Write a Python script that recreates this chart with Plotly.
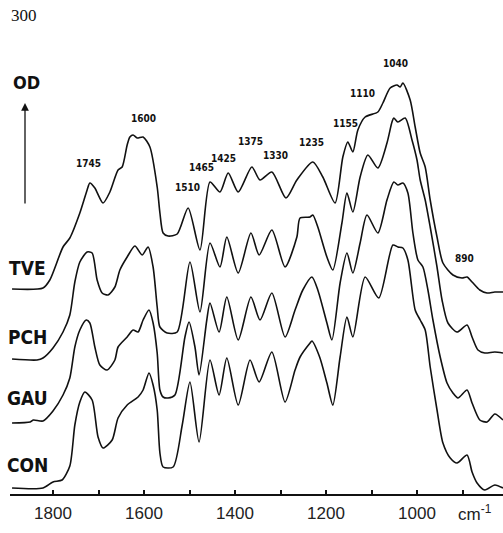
import plotly.graph_objects as go

# ---- data (wavenumber cm-1, OD with vertical offsets as drawn) ----
tve_wn = [1890, 1822, 1807, 1778, 1763, 1741, 1725, 1719, 1708, 1690, 1675, 1657, 1648, 1637, 1631, 1624, 1615, 1602, 1587, 1571, 1565, 1558, 1547, 1527, 1503, 1477, 1455, 1433, 1415, 1393, 1363, 1345, 1319, 1288, 1264, 1229, 1207, 1180, 1163, 1152, 1141, 1130, 1114, 1086, 1075, 1059, 1044, 1037, 1031, 1015, 1004, 993, 982, 971, 956, 943, 921, 901, 890, 879, 862, 846, 829, 811]
tve_od = [2.05, 2.06, 2.14, 2.47, 2.56, 2.81, 3.04, 3.11, 3.06, 2.91, 3.02, 3.24, 3.27, 3.49, 3.57, 3.59, 3.56, 3.57, 3.47, 3.07, 2.81, 2.61, 2.58, 2.60, 2.86, 2.44, 3.12, 3.02, 3.21, 3.02, 3.27, 3.14, 3.22, 2.96, 3.14, 3.32, 3.17, 2.91, 3.37, 3.52, 3.42, 3.64, 3.77, 3.82, 3.91, 4.06, 4.09, 4.07, 4.11, 3.94, 3.67, 3.41, 3.27, 2.94, 2.57, 2.31, 2.19, 2.16, 2.17, 2.12, 2.04, 2.01, 2.02, 2.02]

pch_wn = [1890, 1835, 1822, 1800, 1778, 1763, 1752, 1741, 1725, 1714, 1703, 1692, 1679, 1664, 1653, 1637, 1620, 1604, 1591, 1580, 1571, 1565, 1549, 1527, 1499, 1477, 1455, 1433, 1418, 1393, 1365, 1347, 1319, 1290, 1264, 1257, 1235, 1229, 1218, 1198, 1185, 1165, 1154, 1141, 1125, 1108, 1086, 1066, 1055, 1051, 1042, 1026, 1011, 1000, 993, 982, 971, 956, 945, 932, 912, 890, 879, 866, 851, 829, 811]
pch_od = [1.35, 1.34, 1.36, 1.46, 1.62, 1.79, 2.12, 2.32, 2.42, 2.41, 2.14, 2.01, 1.99, 2.07, 2.24, 2.37, 2.48, 2.39, 2.47, 2.27, 1.87, 1.67, 1.61, 1.62, 2.32, 1.82, 2.51, 2.27, 2.57, 2.21, 2.61, 2.39, 2.64, 2.27, 2.57, 2.76, 2.77, 2.79, 2.67, 2.37, 2.24, 2.71, 3.01, 2.82, 3.17, 3.39, 3.26, 3.51, 3.72, 3.76, 3.72, 3.76, 3.54, 3.34, 3.14, 2.94, 2.67, 2.27, 1.94, 1.71, 1.62, 1.69, 1.57, 1.44, 1.41, 1.42, 1.41]

gau_wn = [1890, 1850, 1843, 1822, 1800, 1778, 1763, 1752, 1741, 1727, 1719, 1708, 1697, 1681, 1664, 1657, 1637, 1624, 1613, 1602, 1589, 1580, 1571, 1565, 1558, 1547, 1532, 1510, 1501, 1488, 1479, 1462, 1455, 1435, 1418, 1393, 1365, 1345, 1319, 1290, 1268, 1251, 1231, 1218, 1198, 1187, 1169, 1154, 1141, 1125, 1110, 1086, 1066, 1051, 1042, 1031, 1020, 1009, 998, 987, 976, 965, 949, 934, 921, 910, 890, 879, 862, 846, 829, 811]
gau_od = [0.71, 0.72, 0.74, 0.73, 0.83, 0.99, 1.16, 1.47, 1.64, 1.74, 1.71, 1.47, 1.29, 1.24, 1.34, 1.47, 1.57, 1.64, 1.62, 1.74, 1.84, 1.71, 1.41, 1.04, 0.97, 0.96, 0.99, 1.57, 1.72, 1.47, 1.19, 1.74, 1.91, 1.62, 1.97, 1.54, 1.97, 1.74, 2.01, 1.57, 1.84, 2.04, 2.17, 2.04, 1.71, 1.54, 2.11, 2.41, 2.21, 2.51, 2.79, 2.61, 2.94, 3.12, 3.09, 3.11, 3.01, 2.61, 2.34, 2.27, 2.04, 1.74, 1.37, 1.11, 1.01, 0.96, 1.04, 0.91, 0.74, 0.72, 0.80, 0.74]

con_wn = [1890, 1822, 1800, 1780, 1763, 1752, 1741, 1730, 1714, 1701, 1690, 1670, 1657, 1637, 1613, 1602, 1589, 1580, 1571, 1565, 1558, 1536, 1516, 1499, 1479, 1455, 1435, 1418, 1393, 1367, 1347, 1319, 1290, 1268, 1257, 1235, 1231, 1214, 1198, 1185, 1169, 1154, 1141, 1114, 1084, 1053, 1042, 1031, 1020, 1004, 993, 982, 971, 956, 943, 927, 912, 890, 879, 868, 851, 829, 811]
con_od = [0.06, 0.06, 0.12, 0.14, 0.28, 0.69, 0.92, 1.02, 0.94, 0.57, 0.46, 0.54, 0.76, 0.89, 0.97, 1.04, 1.21, 1.09, 0.84, 0.41, 0.27, 0.27, 0.69, 1.12, 0.52, 1.34, 0.99, 1.36, 0.89, 1.34, 1.12, 1.42, 0.92, 1.24, 1.37, 1.51, 1.53, 1.37, 1.11, 0.89, 1.37, 1.77, 1.57, 2.17, 1.96, 2.49, 2.47, 2.46, 2.34, 1.84, 1.74, 1.64, 1.27, 0.84, 0.51, 0.36, 0.31, 0.39, 0.22, 0.11, 0.04, 0.09, 0.06]

series_names = ["TVE", "PCH", "GAU", "CON"]
peak_labels = ["1745", "1600", "1510", "1465", "1425", "1375", "1330", "1235", "1155", "1110", "1040", "890"]
peak_wn = [1723, 1602, 1505, 1473, 1426, 1365, 1312, 1231, 1158, 1119, 1048, 895]
peak_od = [3.31, 3.76, 3.07, 3.27, 3.36, 3.53, 3.39, 3.52, 3.71, 4.01, 4.31, 2.36]
major_ticks = [1800, 1600, 1400, 1200, 1000]
minor_ticks = [1700, 1500, 1300, 1100, 900]

fig = go.Figure()
for wn, od in [(tve_wn, tve_od), (pch_wn, pch_od), (gau_wn, gau_od), (con_wn, con_od)]:
    fig.add_trace(go.Scatter(x=wn, y=od, mode="lines",
                             line=dict(color="#111111", width=1.6, shape="spline", smoothing=0.7),
                             showlegend=False, hoverinfo="skip"))

cond = "DejaVu Sans Condensed, DejaVu Sans, sans-serif"
for t, x, y in zip(peak_labels, peak_wn, peak_od):
    fig.add_annotation(x=x, y=y, text=t, showarrow=False, xanchor="center", yanchor="middle",
                       font=dict(family=cond, size=10, color="#111111", weight="bold"))

W, H = 503, 533
L, B = 10, 39
pw, ph = W - L, H - B
def px(xp): return (xp - L) / pw
def py(yp): return (ph - yp) / ph

def note(x, y, text, font):
    fig.add_annotation(xref="paper", yref="paper", x=px(x), y=py(y), text=text, showarrow=False,
                       xanchor="center", yanchor="middle", font=font)

label_y = [268, 337, 398, 465]
for name, yy in zip(series_names, label_y):
    note(27, yy, name, dict(family=cond, size=19, color="#111111", weight="bold"))

note(26, 83, "OD", dict(family=cond, size=18, color="#111111", weight="bold"))
fig.add_annotation(xref="paper", yref="paper", x=px(25), y=py(103), text="", showarrow=True,
                   ax=0, ay=102, arrowhead=2, arrowsize=1.2, arrowwidth=1.3, arrowcolor="#111111")
note(24, 15, "300", dict(family="Liberation Serif, serif", size=17, color="#111111"))
note(475, 513, "cm<sup>-1</sup>", dict(family="Liberation Sans, Arial, sans-serif", size=17, color="#222222"))

tickvals = major_ticks + minor_ticks
ticktext = [str(v) for v in major_ticks] + [""] * len(minor_ticks)

fig.update_xaxes(range=[1894.5, 811], showgrid=False, zeroline=False,
                 showline=True, linecolor="#111111", linewidth=2,
                 ticks="inside", ticklen=4, tickwidth=1.5, tickcolor="#111111",
                 tickvals=tickvals, ticktext=ticktext, ticklabelstandoff=3,
                 tickfont=dict(family="Liberation Sans, Arial, sans-serif", size=17, color="#222222"))
fig.update_yaxes(range=[0, ph / 100], visible=False)

fig.update_layout(width=W, height=H, margin=dict(l=L, r=0, t=0, b=B),
                  paper_bgcolor="white", plot_bgcolor="white")

fig.write_html("out.html")
